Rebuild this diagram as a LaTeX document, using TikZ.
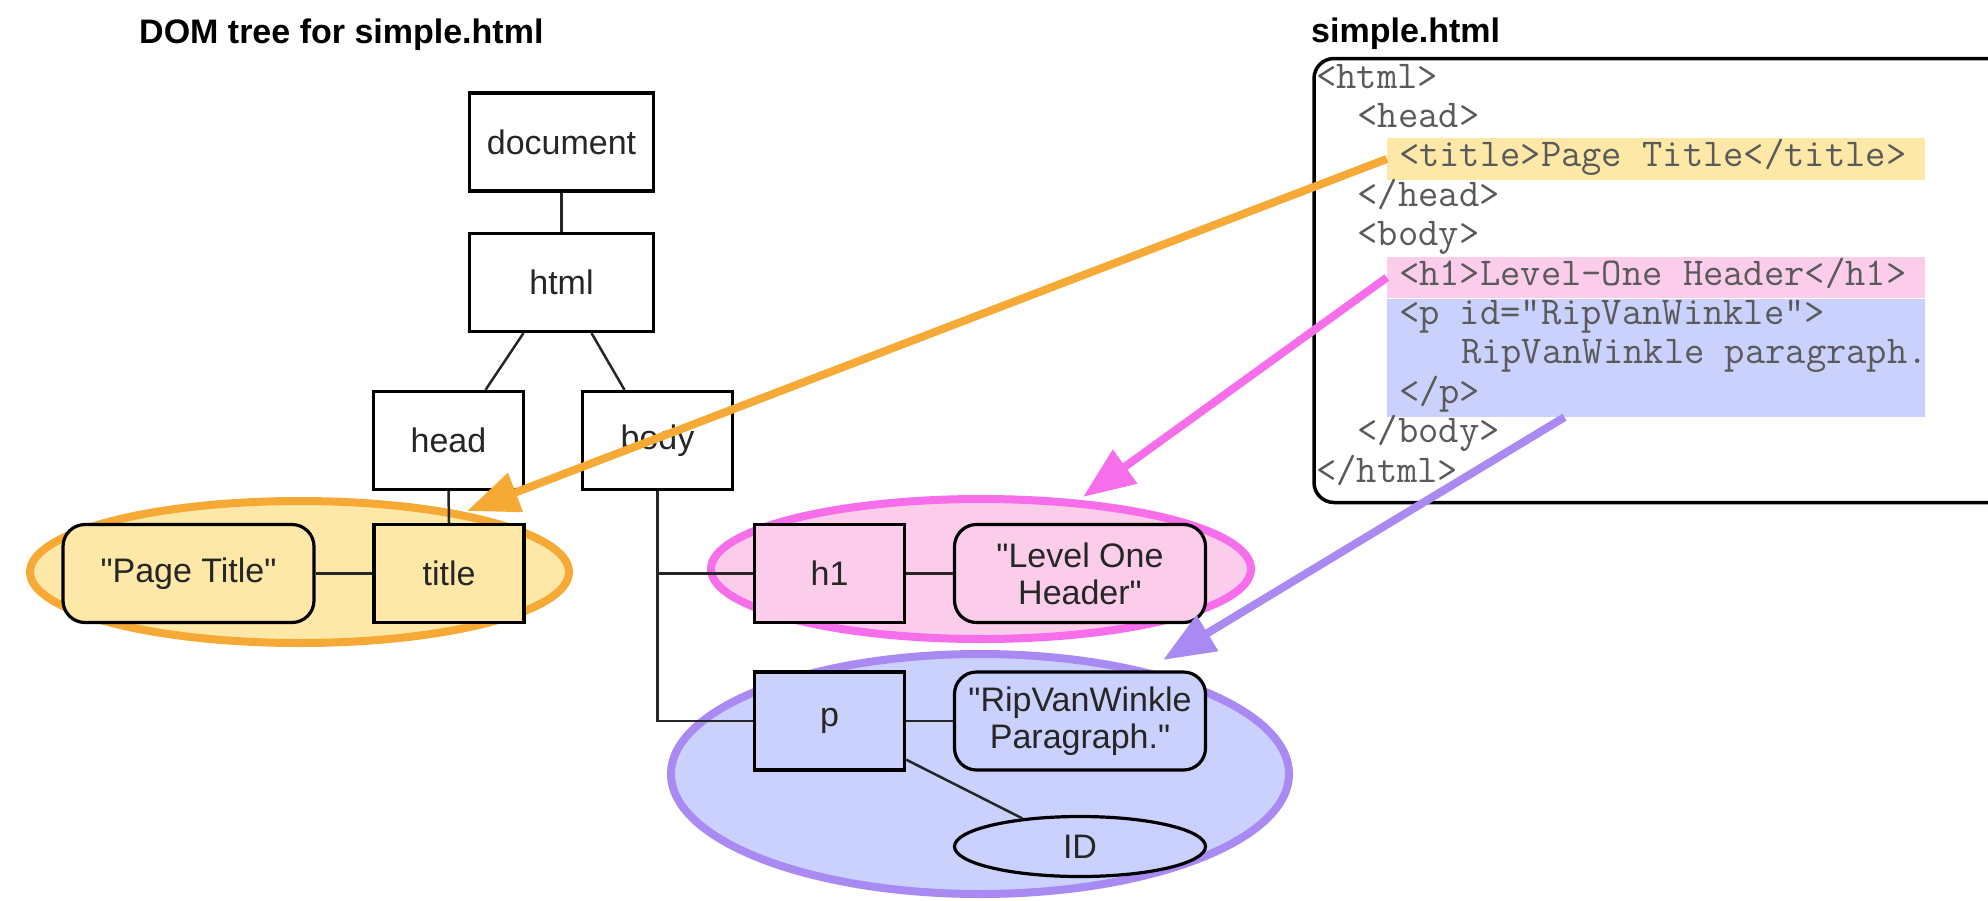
\documentclass[tikz,border=0pt]{standalone}
\usepackage{fontspec}
\setmainfont{Liberation Sans}[Ligatures=TeXOff]
\usetikzlibrary{arrows.meta,shapes.geometric,calc}
\definecolor{yfill}{HTML}{FDE8A7}
\definecolor{ystroke}{HTML}{F6AA35}
\definecolor{pfill}{HTML}{FBCDEB}
\definecolor{pstroke}{HTML}{F66EE9}
\definecolor{bfill}{HTML}{C9D1FC}
\definecolor{bstroke}{HTML}{A98AF2}
\definecolor{codegray}{HTML}{5A5A5A}
\newcommand\labfont{\fontsize{34}{37}\selectfont}
\newcommand\codefont{\ttfamily\fontsize{39.4}{39.4}\selectfont}
\newcommand\headfont{\bfseries\fontsize{34}{37}\selectfont}
\begin{document}
\begin{tikzpicture}[x=1pt,y=-1pt,
  box/.style={draw=black, line width=3.2pt, minimum width=150pt, minimum height=98pt, inner sep=0pt, font=\labfont, text=black!85},
  wbox/.style={box, minimum width=184pt},
  rbox/.style={box, rounded corners=22pt, minimum width=251pt, align=center},
  ell/.style={ellipse, line width=8pt, inner sep=0pt},
  hl/.style={inner sep=0pt, minimum width=538pt},
  code/.style={anchor=base west, inner sep=0pt, font=\codefont, text=codegray},
  conn/.style={line width=2.5pt, draw=black!85},
  arr/.style={line width=8pt, -{Triangle[length=52pt,width=40pt]}}
]
\path[use as bounding box] (0,0) rectangle (1988,900);
\clip (0,0) rectangle (1988,900);
\fill[white] (0,0) rectangle (1988,900);

% titles
\node[anchor=base west, inner sep=0pt, font=\headfont] (domtitle) at (139,43) {DOM tree for simple.html};
\node[anchor=base west, inner sep=0pt, font=\headfont] (codetitle) at (1311,42) {simple.html};

% code panel
\node[hl, fill=yfill, minimum height=42pt] (yhl) at (1656,159) {};
\node[hl, fill=pfill, minimum height=41pt] (phl) at (1656,277.5) {};
\node[hl, fill=bfill, minimum height=118pt] (bhl) at (1656,358) {};
\node[draw=black, line width=3.5pt, rounded corners=20pt, minimum width=786pt, minimum height=444pt, inner sep=0pt] (codebox) at (1707,280.5) {};
\node[code] (c1) at (1316,88) {<html>};
\node[code] (c2) at (1357.4,127.4) {<head>};
\node[code] (c3) at (1398.8,166.8) {<title>Page Title</title>};
\node[code] (c4) at (1357.4,206.2) {</head>};
\node[code] (c5) at (1357.4,245.6) {<body>};
\node[code] (c6) at (1398.8,285) {<h1>Level-One Header</h1>};
\node[code] (c7) at (1398.8,324.4) {<p id="RipVanWinkle">};
\node[code] (c8) at (1460.9,363.8) {RipVanWinkle paragraph.};
\node[code] (c9) at (1398.8,403.2) {</p>};
\node[code] (c10) at (1357.4,442.6) {</body>};
\node[code] (c11) at (1316,482) {</html>};

% highlight ellipses
\node[ell, fill=yfill, draw=ystroke, minimum width=539pt, minimum height=142pt] (oell) at (299.5,572) {};
\node[ell, fill=pfill, draw=pstroke, minimum width=540pt, minimum height=140pt] (pell) at (981,569) {};
\node[ell, fill=bfill, draw=bstroke, minimum width=618pt, minimum height=240pt] (bell) at (980,774) {};

% tree nodes
\node[wbox] (doc) at (561.5,142) {document};
\node[wbox] (html) at (561.5,282.5) {html};
\node[box] (head) at (448.5,440.5) {head};
\node[box] (body) at (657.5,440.5) {body};
\node[box, fill=yfill] (title) at (449,573.5) {title};
\node[rbox, fill=yfill] (ptxt) at (188.5,573.5) {"Page Title"};
\node[box, fill=pfill] (h1) at (829.5,573.5) {h1};
\node[rbox, fill=pfill] (loh) at (1080,573.5) {"Level One\\Header"};
\node[box, fill=bfill] (p) at (829.5,721) {p};
\node[rbox, fill=bfill] (rvw) at (1080,721) {"RipVanWinkle\\Paragraph."};
\node[ellipse, draw=black, line width=3.2pt, fill=bfill, minimum width=251pt, minimum height=60pt, inner sep=0pt, font=\labfont, text=black!85] (ID) at (1080,846.5) {ID};

% tree connectors
\draw[conn] (doc) -- (html);
\draw[conn] ($(html.south)+(-38,0)$) -- ($(head.north)+(37,0)$);
\draw[conn] ($(html.south)+(30,0)$) -- ($(body.north)+(-33,0)$);
\draw[conn] (head.south) -- (title.north);
\draw[conn] (ptxt) -- (title);
\draw[conn] (body.south) |- (h1.west);
\draw[conn] (body.south) |- (p.west);
\draw[conn] (h1) -- (loh);
\draw[conn] (p) -- (rvw);
\draw[conn] ($(p.south east)+(0,-12)$) -- (ID.154);

% arrows from source to tree
\coordinate (otip) at (467,511);
\coordinate (ptip) at (1083,497);
\coordinate (btip) at (1163,660);
\draw[arr, draw=ystroke] (yhl.west) -- (otip);
\draw[arr, draw=pstroke] (phl.west) -- (ptip);
\draw[arr, draw=bstroke] ($(bhl.south west)!0.33!(bhl.south east)$) -- (btip);
\end{tikzpicture}
\end{document}
